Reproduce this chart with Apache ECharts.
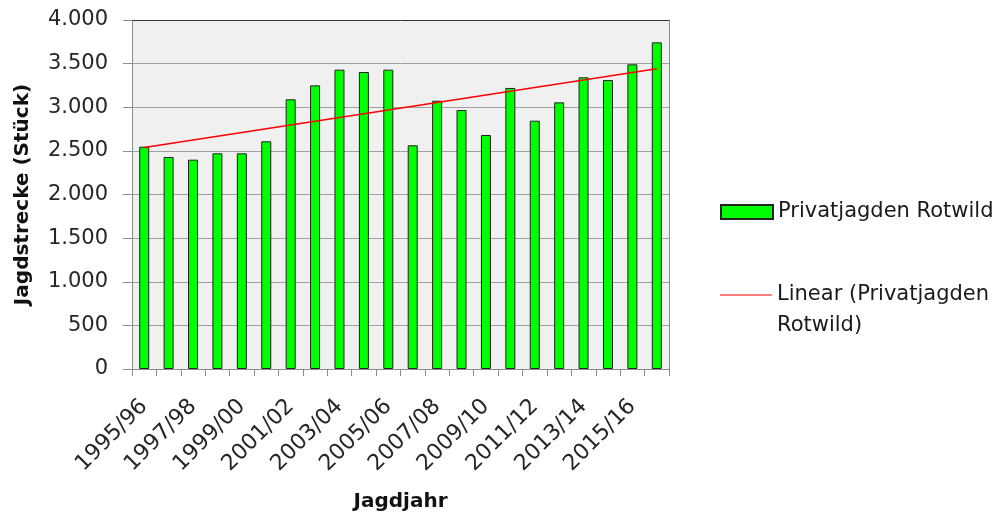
<!DOCTYPE html>
<html>
<head>
<meta charset="utf-8">
<script src="https://cdn.jsdelivr.net/npm/echarts@6/dist/echarts.min.js"></script>
<style>html,body{margin:0;padding:0;background:#fff}#c{width:1008px;height:519px}</style>
</head>
<body>
<div id="c"></div>
<script>
const categories = ['1995/96','1996/97','1997/98','1998/99','1999/00','2000/01','2001/02','2002/03','2003/04','2004/05','2005/06','2006/07','2007/08','2008/09','2009/10','2010/11','2011/12','2012/13','2013/14','2014/15','2015/16','2016/17'];
const rotwild = [2548,2430,2399,2472,2472,2610,3091,3251,3431,3404,3431,2564,3075,2968,2682,3221,2846,3056,3343,3312,3492,3744];
const trendStart = 2540;
const trendEnd = 3440;
const yTicks = [0,500,1000,1500,2000,2500,3000,3500,4000];
const barName = 'Privatjagden Rotwild';
const trendName = 'Linear (Privatjagden Rotwild)';
const trendLegendLines = ['Linear (Privatjagden', 'Rotwild)'];

const FONT = 'DejaVu Sans';
const gridLineColors = ['#a0a0a0','#a0a0a0','#a0a0a0','#a0a0a0','#a0a0a0','#a0a0a0','#a0a0a0','#a0a0a0','#333333'];
const legendText = {fontFamily: FONT, fontSize: 21, color: '#1a1a1a', lineHeight: 30};
const chart = echarts.init(document.getElementById('c'));
chart.setOption({
  animation: false,
  textStyle: {fontFamily: FONT},
  grid: {left: 132, right: 339, top: 20, bottom: 150, outerBoundsMode: 'none', containLabel: false,
         show: true, backgroundColor: '#f0f0f0', borderWidth: 0},
  legend: [{
    orient: 'vertical', left: 720, top: 197, padding: 0, itemWidth: 52, itemHeight: 14,
    textStyle: legendText,
    data: [{name: barName, icon: 'rect'}]
  }, {
    orient: 'vertical', left: 720, top: 280, padding: 0, itemWidth: 52, itemHeight: 14,
    textStyle: legendText,
    data: [{name: trendName, icon: 'path://M0,0L1,0L1,0.015L0,0.015Z',
       itemStyle: {color: '#ff0000', borderWidth: 0, borderColor: 'transparent'}}],
    formatter: function(){ return trendLegendLines[0]; }
  }],
  graphic: [{
    type: 'text', left: 777, top: 315,
    style: {text: trendLegendLines[1], font: '21px "DejaVu Sans"', fill: '#1a1a1a'}
  }],
  xAxis: {
    type: 'category', data: categories, boundaryGap: true,
    name: 'Jagdjahr', nameLocation: 'middle', nameGap: 123,
    nameTextStyle: {fontFamily: FONT, fontSize: 20, fontWeight: 'bold', color: '#111'},
    axisLine: {lineStyle: {color: '#8c8c8c'}},
    axisTick: {show: true, interval: 0, length: 7, lineStyle: {color: '#8c8c8c'}},
    axisLabel: {interval: 1, rotate: 45, fontSize: 22, color: '#262626', margin: 34},
    splitLine: {show: false}
  },
  yAxis: [{
    type: 'value', min: 0, max: 4000, interval: 500,
    name: 'Jagdstrecke (Stück)', nameLocation: 'middle', nameGap: 99,
    nameTextStyle: {fontFamily: FONT, fontSize: 20, fontWeight: 'bold', color: '#111'},
    axisLine: {show: true, lineStyle: {color: '#8c8c8c'}},
    axisTick: {show: true, length: 9, lineStyle: {color: '#8c8c8c'}},
    axisLabel: {fontSize: 21, color: '#262626', margin: 24,
      formatter: function(v){ return yTicks.indexOf(v) >= 0 ? String(v).replace(/\B(?=(\d{3})+(?!\d))/g, '.') : ''; }},
    splitLine: {show: true, lineStyle: {color: gridLineColors, width: 1}}
  }, {
    type: 'value', min: 0, max: 4000, interval: 500, position: 'right',
    axisLine: {show: true, lineStyle: {color: '#8c8c8c'}},
    axisTick: {show: false}, axisLabel: {show: false}, splitLine: {show: false}
  }],
  series: [
    {name: barName, type: 'bar', data: rotwild, barWidth: 10,
     itemStyle: {color: '#00ff00', borderColor: '#222', borderWidth: 1}},
    {name: trendName, type: 'line', symbol: 'none',
     data: [[categories[0], trendStart], [categories[categories.length-1], trendEnd]],
     lineStyle: {color: '#ff0000', width: 1.5}, itemStyle: {color: '#ff0000'}, z: 3}
  ]
});
</script>
</body>
</html>
